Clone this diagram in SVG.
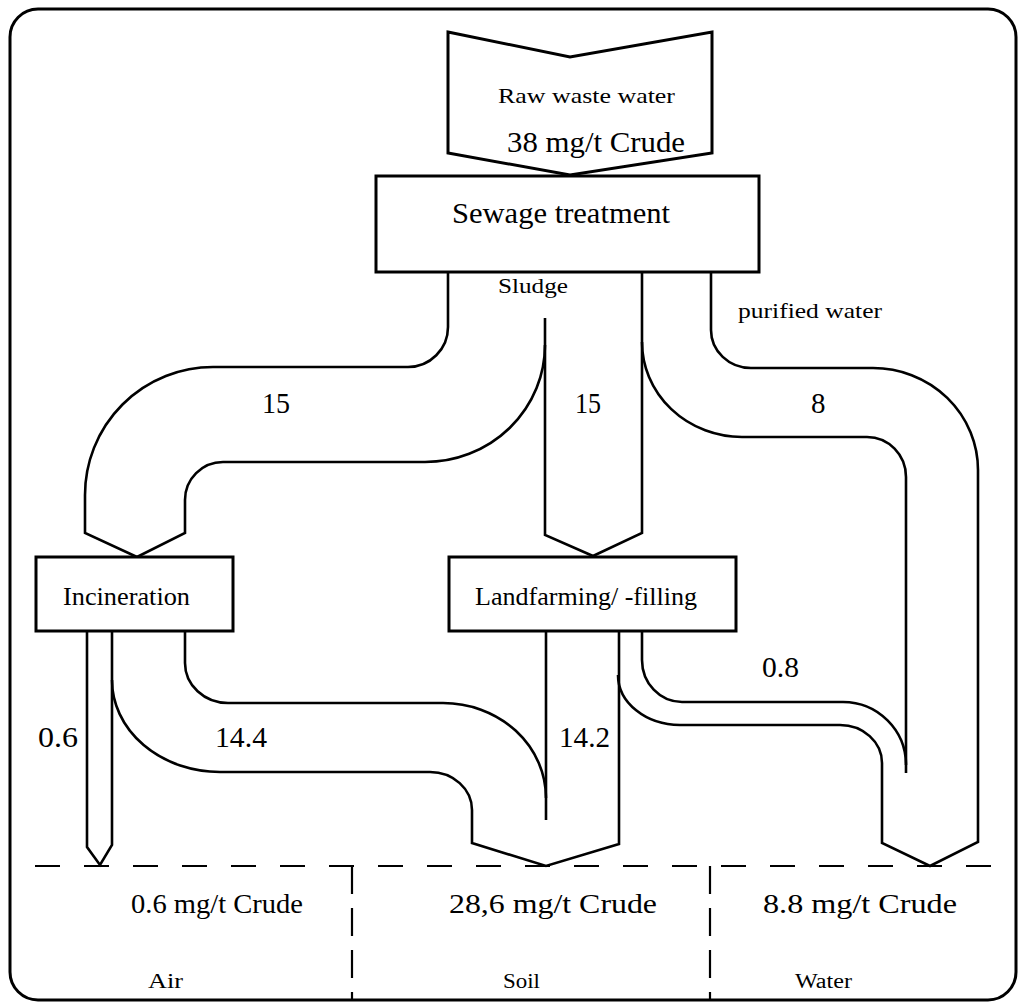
<svg xmlns="http://www.w3.org/2000/svg" width="1021" height="1003" viewBox="0 0 1021 1003">
<style>
.ln{fill:none;stroke:#000;stroke-width:2.6;stroke-linejoin:miter}
.bx{fill:#fff;stroke:#000;stroke-width:3}
.t{font-family:"Liberation Serif","Times New Roman",serif;fill:#000}
.ds{fill:none;stroke:#000;stroke-width:2.2;stroke-dasharray:25 24}
</style>
<rect x="0" y="0" width="1021" height="1003" fill="#fff"/>
<rect x="10" y="9" width="1006" height="991" rx="28" ry="28" fill="none" stroke="#000" stroke-width="3"/>
<g id="connectors">
<path class="ln" d="M448 272 V327 A40 40 0 0 1 408 367 H213 A128 128 0 0 0 85 495 V533 L137 557 L185 533 V500 A38 38 0 0 1 223 462 H425 A120 117 0 0 0 545 345"/>
<path class="ln" d="M545 318 V535 L593 556 L642 533 V272"/>
<path class="ln" d="M711 272 V330 A40 38 0 0 0 751 368 H873 A105 102 0 0 1 978 470 V842 L930 866 L882 843 V763 A42 38 0 0 0 840 725 H680 A62 50 0 0 1 618 675"/>
<path class="ln" d="M642 342 A100 95 0 0 0 742 437 H867 A39 40 0 0 1 906 477 V773"/>
<path class="ln" d="M642 631 V660 A40 42 0 0 0 682 702 H843 A63 63 0 0 1 906 765"/>
<path class="ln" d="M546 631 V820"/>
<path class="ln" d="M619 631 V844 L546 866 L472 843 V810 A42 38 0 0 0 430 772 H220 A108 92 0 0 1 112 680"/>
<path class="ln" d="M185 631 V663 A43 40 0 0 0 228 703 H443 A103 95 0 0 1 546 798"/>
<path class="ln" d="M87 631 V847 L100 865 L112 845 V631"/>
</g>
<g id="raw-waste-water">
<path class="bx" d="M448 32 L570 57 L712 32 V153 L570 175 L448 153 Z"/>
<text class="t" x="498" y="103" font-size="21" textLength="177" lengthAdjust="spacingAndGlyphs">Raw waste water</text>
<text class="t" x="507" y="152" font-size="30" textLength="178" lengthAdjust="spacingAndGlyphs">38 mg/t Crude</text>
</g>
<g id="sewage-treatment">
<rect class="bx" x="376" y="176" width="383" height="96"/>
<text class="t" x="452" y="223" font-size="30" textLength="218" lengthAdjust="spacingAndGlyphs">Sewage treatment</text>
</g>
<g id="incineration">
<rect class="bx" x="36" y="557" width="197" height="74"/>
<text class="t" x="63" y="605" font-size="25" textLength="127" lengthAdjust="spacingAndGlyphs">Incineration</text>
</g>
<g id="landfarming">
<rect class="bx" x="449" y="557" width="287" height="74"/>
<text class="t" x="475" y="605" font-size="25" textLength="222" lengthAdjust="spacingAndGlyphs">Landfarming/ -filling</text>
</g>
<g id="labels">
<text class="t" x="498" y="293" font-size="22" textLength="70" lengthAdjust="spacingAndGlyphs">Sludge</text>
<text class="t" x="738" y="318" font-size="22" textLength="144" lengthAdjust="spacingAndGlyphs">purified water</text>
<text class="t" x="262" y="413" font-size="29" textLength="28" lengthAdjust="spacingAndGlyphs">15</text>
<text class="t" x="575" y="413" font-size="29" textLength="26" lengthAdjust="spacingAndGlyphs">15</text>
<text class="t" x="811" y="413" font-size="29">8</text>
<text class="t" x="38" y="747" font-size="29" textLength="40" lengthAdjust="spacingAndGlyphs">0.6</text>
<text class="t" x="215" y="747" font-size="29" textLength="52" lengthAdjust="spacingAndGlyphs">14.4</text>
<text class="t" x="559" y="747" font-size="29" textLength="51" lengthAdjust="spacingAndGlyphs">14.2</text>
<text class="t" x="762" y="677" font-size="29" textLength="37" lengthAdjust="spacingAndGlyphs">0.8</text>
</g>
<g id="compartments">
<path class="ds" d="M35 866 H1016"/>
<path class="ds" d="M352 866 V1000" style="stroke-dasharray:28 14"/>
<path class="ds" d="M710 866 V1000" style="stroke-dasharray:28 14"/>
<text class="t" x="131" y="913" font-size="28" textLength="172" lengthAdjust="spacingAndGlyphs">0.6 mg/t Crude</text>
<text class="t" x="449" y="913" font-size="28" textLength="208" lengthAdjust="spacingAndGlyphs">28,6 mg/t Crude</text>
<text class="t" x="763" y="913" font-size="28" textLength="194" lengthAdjust="spacingAndGlyphs">8.8 mg/t Crude</text>
<text class="t" x="148" y="988" font-size="20" textLength="35" lengthAdjust="spacingAndGlyphs">Air</text>
<text class="t" x="503" y="988" font-size="20" textLength="37" lengthAdjust="spacingAndGlyphs">Soil</text>
<text class="t" x="795" y="988" font-size="20" textLength="57" lengthAdjust="spacingAndGlyphs">Water</text>
</g>
</svg>
